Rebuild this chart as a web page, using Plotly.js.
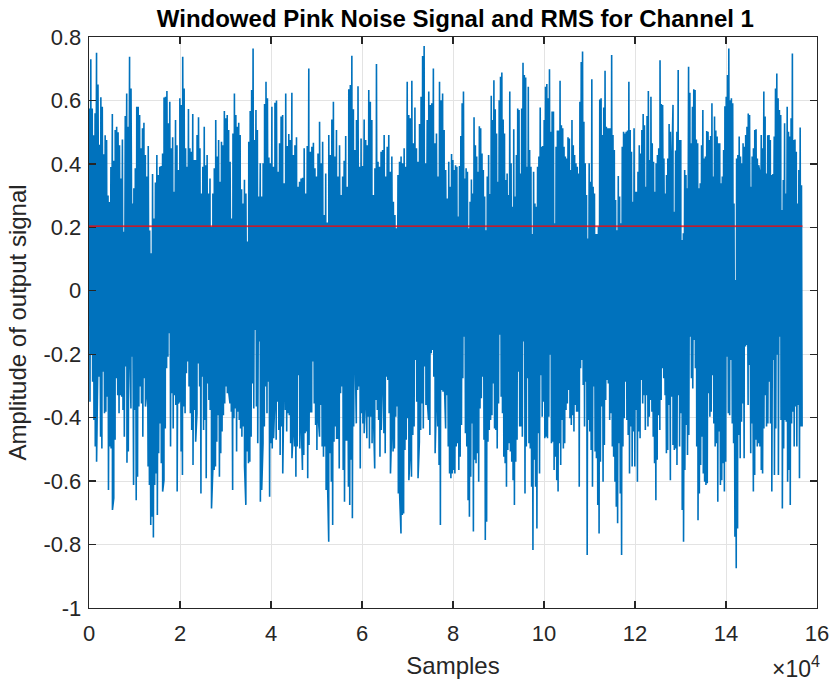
<!DOCTYPE html>
<html>
<head>
<meta charset="utf-8">
<script src="https://cdn.plot.ly/plotly-3.0.1.min.js"></script>
<style>html,body{margin:0;padding:0;background:#fff;}#chart{width:831px;height:681px;}</style>
</head>
<body>
<div id="chart"></div>
<script>
// Sample-number boundaries of the four stretches of signal
const segEdges = [0, 39770, 79320, 118870, 156800];

// Upper peaks of the signal, read left to right, per stretch
const top1 = [0.575,0.73,0.575,0.49,0.56,0.75,0.65,0.46,0.61,0.58,0.43,0.49,0.475,0.30,0.28,0.39,0.557,0.41,0.507,0.517,0.50,0.459,0.354,0.477,0.186,0.551,0.622,0.517,0.738,0.638,0.275,0.323,0.386,0.58,0.58,0.554,0.449,0.512,0.53,0.428,0.36,0.456,0.19,0.118,0.368,0.228,0.341,0.428,0.365,0.391,0.393,0.433,0.609,0.612,0.63,0.528,0.596,0.449,0.484,0.312,0.538,0.459,0.381,0.607,0.586,0.738,0.638,0.449,0.391,0.573,0.449,0.438,0.557,0.412,0.412,0.491,0.547,0.449,0.307,0.391,0.517,0.396,0.428,0.307,0.354,0.202,0.307,0.386,0.538,0.423,0.475,0.344,0.47,0.459,0.567,0.544,0.554,0.507,0.407,0.228,0.496,0.622,0.554,0.517,0.53,0.491,0.32,0.275,0.35,0.307,0.155,0.47,0.567,0.633,0.764,0.475,0.57,0.507,0.297,0.402,0.297,0.402,0.589,0.659,0.607,0.42];
const top2 = [0.402,0.580,0.391,0.593,0.600,0.375,0.465,0.549,0.554,0.339,0.622,0.456,0.494,0.475,0.624,0.428,0.459,0.484,0.328,0.344,0.354,0.356,0.449,0.307,0.456,0.701,0.438,0.454,0.467,0.386,0.360,0.433,0.533,0.402,0.470,0.239,0.370,0.215,0.491,0.428,0.540,0.596,0.423,0.507,0.360,0.459,0.302,0.360,0.410,0.488,0.328,0.635,0.649,0.741,0.572,0.444,0.538,0.645,0.391,0.480,0.393,0.540,0.475,0.459,0.633,0.596,0.538,0.302,0.386,0.715,0.407,0.391,0.438,0.444,0.491,0.360,0.454,0.491,0.375,0.423,0.281,0.239,0.197,0.365,0.407,0.423,0.402,0.449,0.391,0.659,0.554,0.544,0.662,0.465,0.578,0.449,0.407,0.526,0.612,0.740,0.772,0.402,0.538,0.628,0.586,0.591,0.701,0.465,0.496,0.360,0.659,0.601,0.622,0.507,0.381,0.291,0.407];
const top3 = [0.328,0.431,0.412,0.381,0.396,0.391,0.234,0.393,0.488,0.591,0.628,0.354,0.386,0.375,0.197,0.281,0.351,0.307,0.547,0.459,0.423,0.375,0.519,0.512,0.433,0.381,0.297,0.191,0.360,0.428,0.305,0.615,0.538,0.664,0.572,0.496,0.344,0.601,0.675,0.688,0.540,0.496,0.349,0.370,0.302,0.628,0.402,0.265,0.509,0.297,0.428,0.575,0.570,0.370,0.575,0.719,0.680,0.672,0.391,0.643,0.444,0.391,0.179,0.375,0.275,0.265,0.391,0.423,0.578,0.454,0.456,0.538,0.643,0.652,0.607,0.698,0.501,0.565,0.565,0.213,0.454,0.505,0.505,0.662,0.522,0.512,0.454,0.423,0.417,0.484,0.480,0.381,0.538,0.459,0.428,0.402,0.391,0.370,0.596,0.721,0.754,0.533,0.402,0.302,0.165,0.402,0.344,0.667,0.328,0.307,0.179,0.179,0.202,0.603,0.607,0.491,0.578,0.694,0.517,0.512,0.512,0.512,0.743,0.491,0.444,0.286,0.191,0.362,0.297,0.213,0.454,0.501,0.496,0.501,0.505,0.659];
const top4 = [0.507,0.438,0.281,0.512,0.312,0.312,0.375,0.459,0.433,0.507,0.557,0.522,0.328,0.551,0.630,0.412,0.612,0.465,0.407,0.312,0.402,0.428,0.449,0.727,0.589,0.586,0.417,0.307,0.365,0.417,0.526,0.501,0.370,0.586,0.249,0.442,0.501,0.696,0.475,0.475,0.160,0.181,0.381,0.365,0.323,0.706,0.624,0.465,0.580,0.635,0.633,0.477,0.465,0.323,0.339,0.459,0.570,0.417,0.423,0.504,0.501,0.475,0.488,0.591,0.360,0.549,0.505,0.486,0.465,0.465,0.339,0.360,0.444,0.582,0.612,0.680,0.764,0.601,0.607,0.591,0.275,0.034,0.417,0.428,0.486,0.423,0.402,0.465,0.454,0.491,0.517,0.559,0.554,0.328,0.423,0.449,0.507,0.509,0.417,0.396,0.370,0.491,0.449,0.628,0.549,0.370,0.490,0.491,0.475,0.365,0.368,0.486,0.638,0.685,0.607,0.570,0.554,0.255,0.349,0.528,0.307,0.580,0.501,0.486,0.544,0.748,0.475,0.477,0.438,0.275,0.381,0.515,0.333];

// Lower peaks of the signal, read left to right, per stretch
const bot1 = [-0.350,-0.202,-0.287,-0.407,-0.491,-0.539,-0.213,-0.271,-0.460,-0.497,-0.255,-0.386,-0.381,-0.334,-0.628,-0.491,-0.497,-0.691,-0.654,-0.470,-0.276,-0.329,-0.386,-0.329,-0.334,-0.376,-0.460,-0.239,-0.542,-0.507,-0.155,-0.371,-0.208,-0.612,-0.376,-0.660,-0.586,-0.365,-0.302,-0.355,-0.460,-0.276,-0.365,-0.318,-0.554,-0.612,-0.738,-0.712,-0.778,-0.612,-0.576,-0.707,-0.512,-0.418,-0.544,-0.633,-0.597,-0.434,-0.244,-0.208,-0.134,-0.491,-0.323,-0.434,-0.329,-0.360,-0.633,-0.355,-0.344,-0.507,-0.581,-0.365,-0.386,-0.260,-0.223,-0.302,-0.386,-0.439,-0.549,-0.376,-0.476,-0.386,-0.229,-0.302,-0.639,-0.271,-0.439,-0.407,-0.591,-0.292,-0.344,-0.376,-0.686,-0.565,-0.565,-0.554,-0.476,-0.392,-0.586,-0.512,-0.444,-0.392,-0.355,-0.302,-0.323,-0.318,-0.355,-0.381,-0.628,-0.402,-0.371,-0.507,-0.381,-0.407,-0.434,-0.460,-0.428,-0.554,-0.675,-0.507,-0.544,-0.539,-0.460,-0.292,-0.371,-0.124,-0.365,-0.481,-0.160,-0.665,-0.628,-0.481,-0.428,-0.302,-0.386,-0.287,-0.649];
const bot2 = [-0.481,-0.497,-0.465,-0.334,-0.470,-0.350,-0.439,-0.518,-0.428,-0.576,-0.266,-0.376,-0.444,-0.386,-0.392,-0.481,-0.528,-0.434,-0.491,-0.586,-0.491,-0.266,-0.497,-0.402,-0.565,-0.518,-0.449,-0.444,-0.591,-0.486,-0.381,-0.381,-0.223,-0.355,-0.423,-0.502,-0.397,-0.460,-0.360,-0.491,-0.523,-0.491,-0.628,-0.586,-0.791,-0.512,-0.602,-0.738,-0.476,-0.428,-0.465,-0.465,-0.560,-0.323,-0.302,-0.565,-0.665,-0.470,-0.470,-0.618,-0.675,-0.533,-0.717,-0.428,-0.160,-0.418,-0.313,-0.302,-0.560,-0.386,-0.418,-0.449,-0.339,-0.465,-0.397,-0.497,-0.397,-0.481,-0.381,-0.560,-0.344,-0.376,-0.407,-0.523,-0.439,-0.266,-0.449,-0.512,-0.271,-0.281,-0.386,-0.576,-0.428,-0.507,-0.497,-0.397,-0.365,-0.639,-0.644,-0.765,-0.707,-0.702,-0.502,-0.470,-0.402,-0.597,-0.512,-0.586,-0.455,-0.428,-0.218,-0.350,-0.591,-0.476,-0.439,-0.355,-0.434,-0.239,-0.360,-0.344,-0.407,-0.455,-0.197,-0.187,-0.271,-0.512,-0.329,-0.428,-0.549,-0.738,-0.313,-0.318,-0.281,-0.434,-0.329,-0.491,-0.576];
const bot3 = [-0.591,-0.576,-0.565,-0.576,-0.491,-0.481,-0.565,-0.523,-0.423,-0.276,-0.145,-0.449,-0.491,-0.660,-0.712,-0.586,-0.418,-0.759,-0.533,-0.544,-0.512,-0.602,-0.371,-0.339,-0.271,-0.470,-0.786,-0.728,-0.476,-0.439,-0.407,-0.392,-0.292,-0.434,-0.439,-0.497,-0.355,-0.139,-0.334,-0.386,-0.523,-0.544,-0.618,-0.502,-0.481,-0.507,-0.539,-0.597,-0.675,-0.539,-0.470,-0.255,-0.428,-0.428,-0.460,-0.160,-0.639,-0.491,-0.276,-0.481,-0.497,-0.618,-0.817,-0.533,-0.618,-0.749,-0.449,-0.576,-0.266,-0.397,-0.350,-0.465,-0.460,-0.465,-0.397,-0.202,-0.481,-0.476,-0.565,-0.523,-0.597,-0.633,-0.481,-0.549,-0.407,-0.497,-0.481,-0.376,-0.355,-0.313,-0.402,-0.423,-0.392,-0.444,-0.360,-0.381,-0.381,-0.618,-0.244,-0.218,-0.297,-0.428,-0.287,-0.833,-0.407,-0.444,-0.502,-0.618,-0.302,-0.507,-0.528,-0.675,-0.765,-0.539,-0.365,-0.602,-0.486,-0.344,-0.281,-0.292,-0.407,-0.386,-0.491,-0.523,-0.602,-0.681,-0.733,-0.481,-0.639,-0.833,-0.491,-0.402,-0.287,-0.407,-0.455,-0.576];
const bot4 = [-0.428,-0.554,-0.444,-0.554,-0.376,-0.602,-0.444,-0.465,-0.281,-0.355,-0.329,-0.439,-0.329,-0.428,-0.397,-0.344,-0.381,-0.460,-0.544,-0.660,-0.533,-0.392,-0.439,-0.344,-0.244,-0.276,-0.329,-0.512,-0.502,-0.360,-0.597,-0.334,-0.486,-0.502,-0.497,-0.549,-0.329,-0.491,-0.386,-0.691,-0.791,-0.565,-0.423,-0.518,-0.455,-0.145,-0.276,-0.308,-0.155,-0.244,-0.491,-0.723,-0.639,-0.549,-0.460,-0.576,-0.602,-0.612,-0.607,-0.323,-0.397,-0.381,-0.266,-0.418,-0.491,-0.481,-0.665,-0.444,-0.612,-0.597,-0.544,-0.633,-0.539,-0.208,-0.386,-0.392,-0.218,-0.418,-0.481,-0.775,-0.875,-0.749,-0.455,-0.528,-0.413,-0.355,-0.528,-0.176,-0.171,-0.360,-0.234,-0.512,-0.418,-0.633,-0.581,-0.470,-0.491,-0.481,-0.491,-0.565,-0.576,-0.434,-0.329,-0.428,-0.418,-0.287,-0.418,-0.633,-0.218,-0.581,-0.434,-0.202,-0.581,-0.145,-0.407,-0.686,-0.497,-0.407,-0.413,-0.602,-0.565,-0.675,-0.418,-0.381,-0.491,-0.365,-0.491,-0.360,-0.591,-0.428,-0.428];

// RMS of the signal
const rmsValue = 0.204;
const lastSample = 156800;

// Tick labels
const xTickVals = [0,20000,40000,60000,80000,100000,120000,140000,160000];
const xTickText = ['0','2','4','6','8','10','12','14','16'];
const yTickVals = [-1,-0.8,-0.6,-0.4,-0.2,0,0.2,0.4,0.6,0.8];
const yTickText = ['-1','-0.8','-0.6','-0.4','-0.2','0','0.2','0.4','0.6','0.8'];

const tops = [top1, top2, top3, top4];
const bots = [bot1, bot2, bot3, bot4];
let pts = [];
for (let k = 0; k < 4; k++) {
  const a = segEdges[k], b = segEdges[k+1];
  tops[k].forEach((v, i) => pts.push([a + (i + 0.25) * (b - a) / tops[k].length, v]));
  bots[k].forEach((v, i) => pts.push([a + (i + 0.75) * (b - a) / bots[k].length, v]));
}
pts.sort((p, q) => p[0] - q[0]);
const sigX = pts.map(p => p[0]);
const sigY = pts.map(p => p[1]);

const fontFam = '"Liberation Sans", Arial, Helvetica, sans-serif';
const axCol = '#262626';

const traces = [
  {x: sigX, y: sigY, type: 'scatter', mode: 'lines', line: {color: '#0072BD', width: 1.6}, hoverinfo: 'skip'},
  {x: [1, lastSample], y: [rmsValue, rmsValue], type: 'scatter', mode: 'lines', line: {color: '#FF0000', width: 1.2}, hoverinfo: 'skip'}
];

const layout = {
  width: 831, height: 681,
  margin: {l: 89, r: 14, t: 37, b: 73},
  paper_bgcolor: '#ffffff', plot_bgcolor: '#ffffff',
  showlegend: false,
  font: {family: fontFam, color: axCol, size: 22},
  title: {text: '<b>Windowed Pink Noise Signal and RMS for Channel 1</b>', font: {family: fontFam, size: 24, color: '#000000'}, x: 0.548, xanchor: 'center', y: 0.972, yanchor: 'middle', yref: 'container'},
  xaxis: {
    range: [0, 160000], tickvals: xTickVals, ticktext: xTickText,
    showline: true, mirror: 'ticks', linecolor: axCol, linewidth: 1.3,
    ticks: 'inside', ticklen: 7, tickwidth: 1.3, tickcolor: axCol,
    ticklabelstandoff: 5,
    showgrid: true, gridcolor: '#e3e3e3', gridwidth: 1, zeroline: false,
    tickfont: {family: fontFam, size: 22, color: axCol},
    title: {text: 'Samples', font: {family: fontFam, size: 24, color: axCol}, standoff: 12}
  },
  yaxis: {
    range: [-1, 0.8], tickvals: yTickVals, ticktext: yTickText,
    showline: true, mirror: 'ticks', linecolor: axCol, linewidth: 1.3,
    ticks: 'inside', ticklen: 7, tickwidth: 1.3, tickcolor: axCol,
    ticklabelstandoff: 2,
    showgrid: true, gridcolor: '#e3e3e3', gridwidth: 1, zeroline: false,
    tickfont: {family: fontFam, size: 22, color: axCol},
    title: {text: 'Amplitude of output signal', font: {family: fontFam, size: 24, color: axCol}, standoff: 10}
  },
  annotations: [
    {text: '×10<sup>4</sup>', xref: 'paper', yref: 'paper', x: 1.007, xanchor: 'right', y: -0.103, yanchor: 'middle', showarrow: false, font: {family: fontFam, size: 23, color: axCol}}
  ]
};

Plotly.newPlot('chart', traces, layout, {displayModeBar: false, staticPlot: true});
</script>
</body>
</html>
